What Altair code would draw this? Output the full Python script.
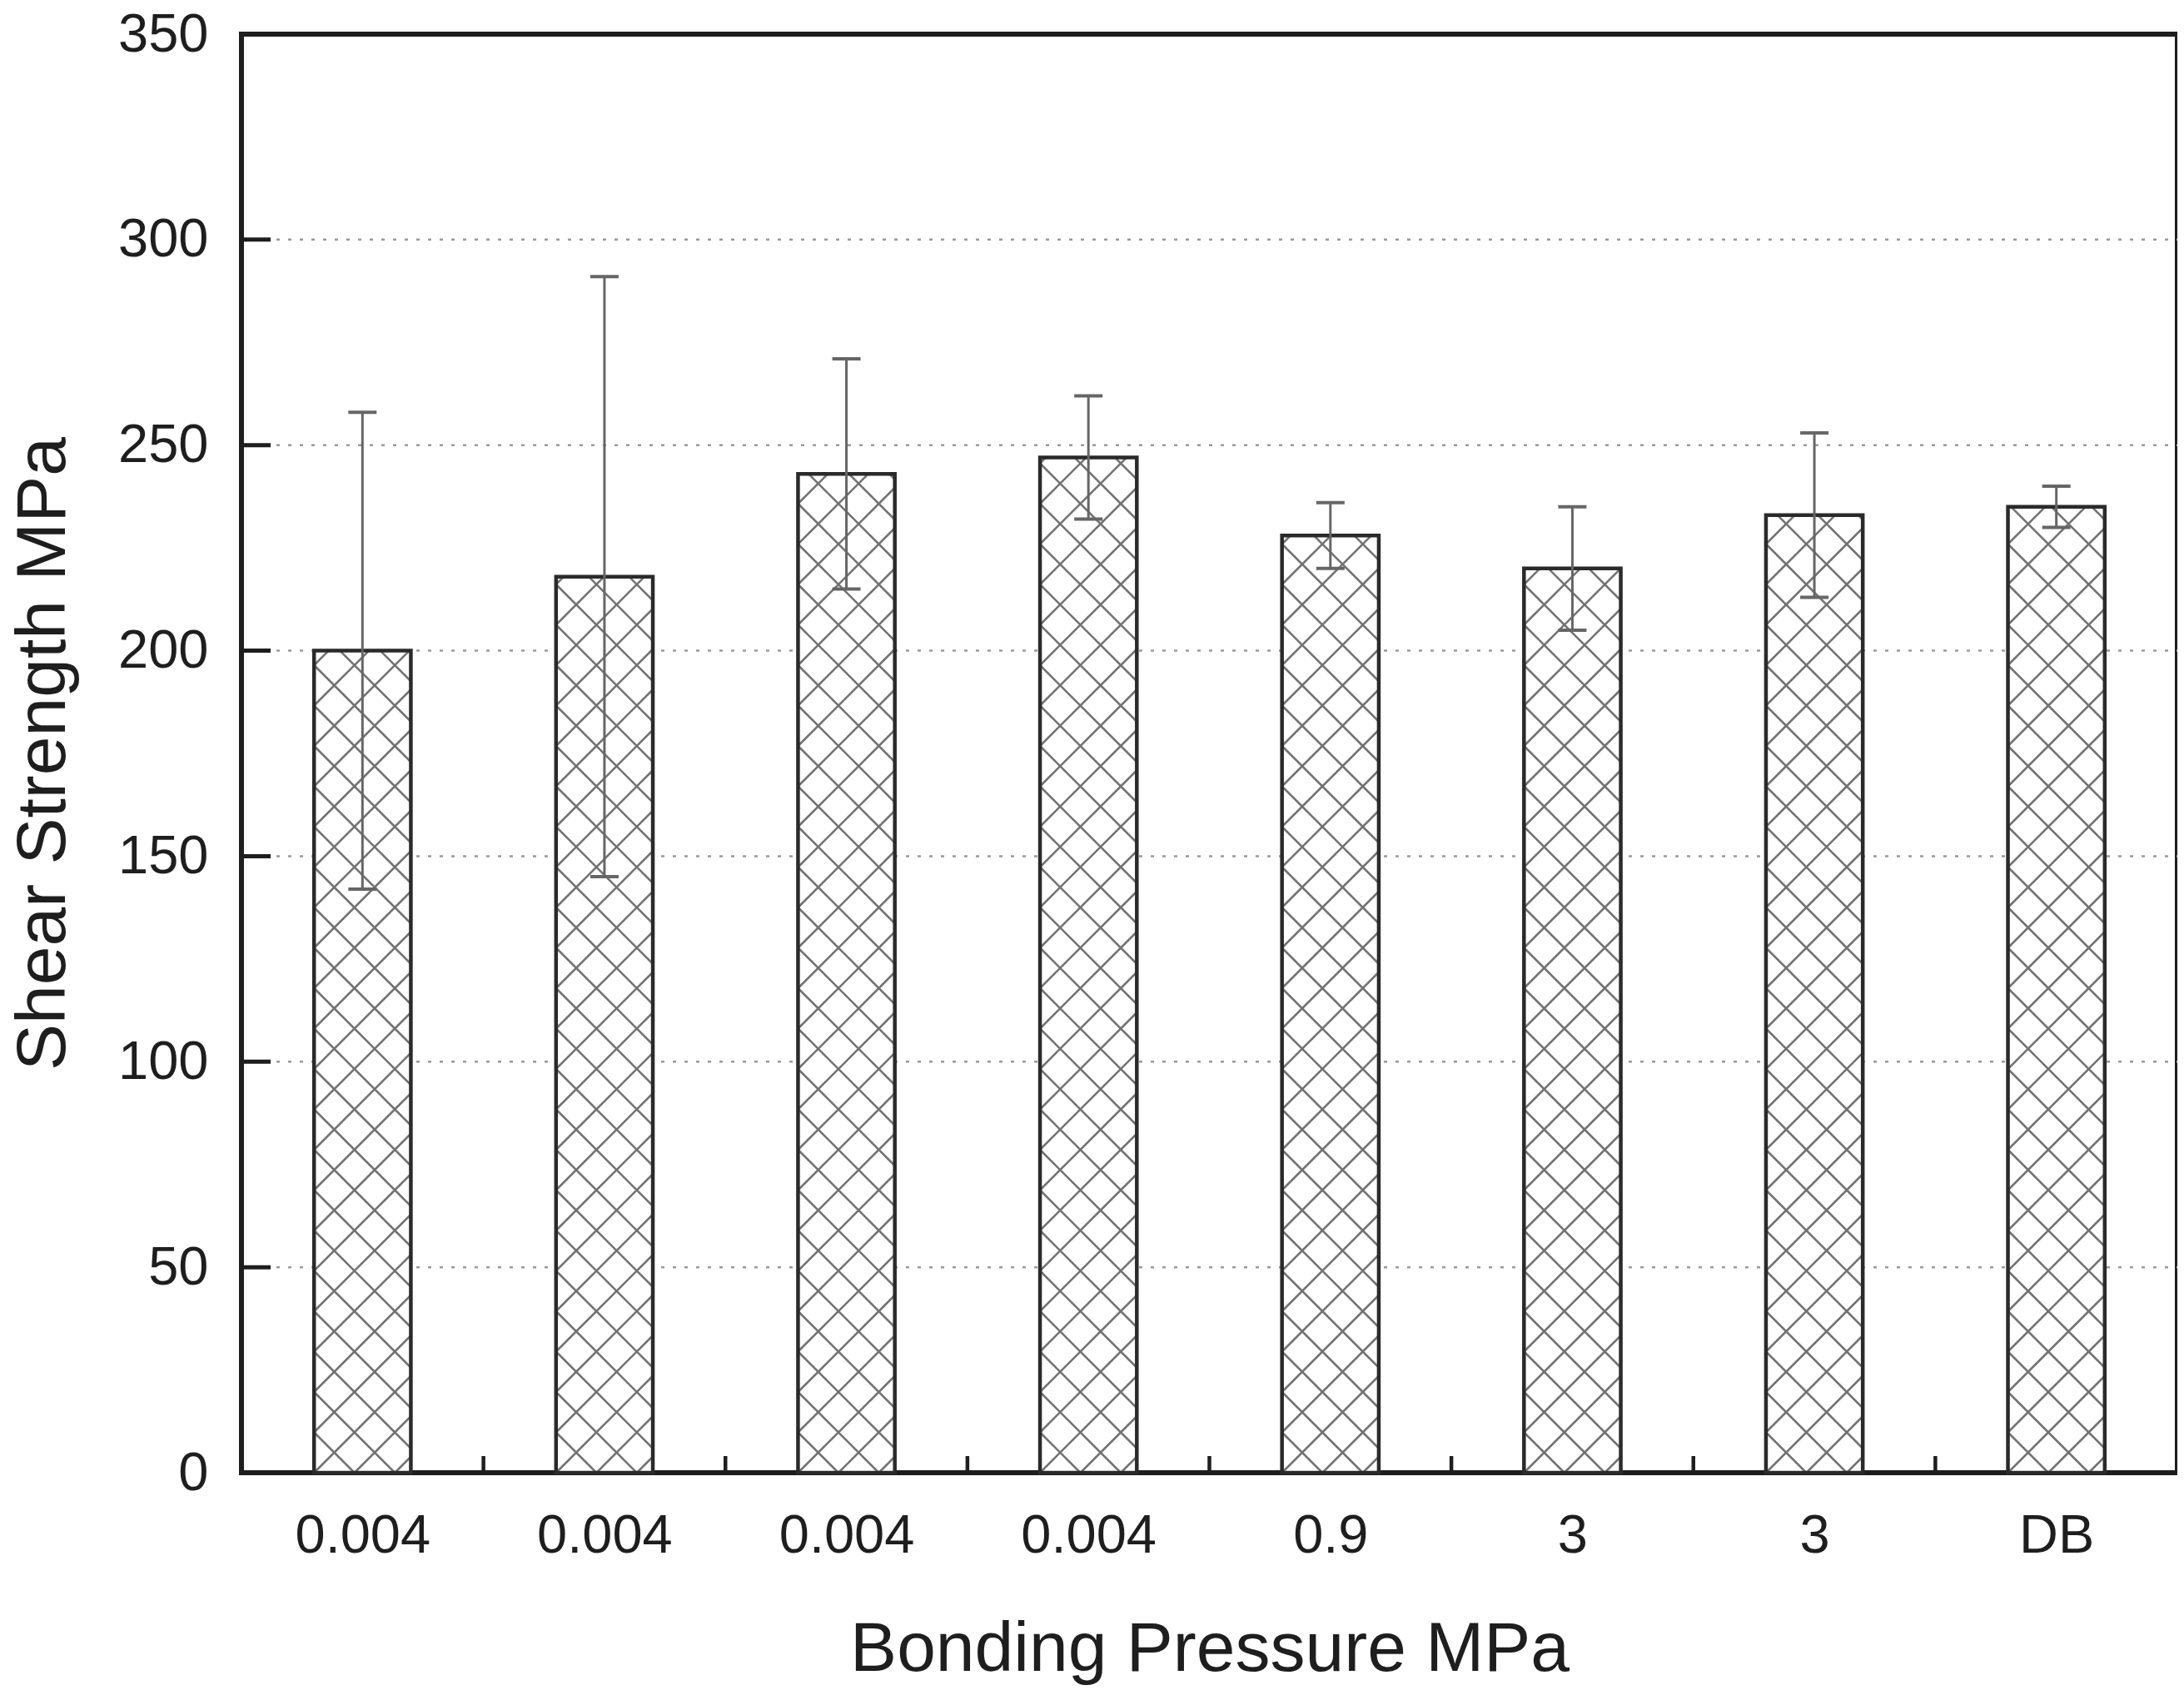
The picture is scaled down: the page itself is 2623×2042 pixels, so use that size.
import json
import altair as alt
import pandas as pd

# ---- data ----
labels = ["0.004", "0.004", "0.004", "0.004", "0.9", "3", "3", "DB"]
strength = [200, 218, 243, 247, 228, 220, 233, 235]
err_hi = [258, 291, 271, 262, 236, 235, 253, 240]
err_lo = [142, 145, 215, 232, 220, 205, 213, 230]
y_ticks = [0, 50, 100, 150, 200, 250, 300, 350]
grid_vals = [50, 100, 150, 200, 250, 300]

# ---- layout / style constants ----
W, H = 2325, 1728
N = len(labels)
YMAX = 350
HALF = 0.2          # half bar width in category units
CAP = 17 / (W / N)  # half cap width in category units
HATCH = 48.5        # hatch period in px
FONT = "Liberation Sans"
INK = "#1e1e1e"

sx = W / N
sy = H / YMAX

bars = pd.DataFrame({
    "label": labels,
    "x1": [i + 0.5 - HALF for i in range(N)],
    "x2": [i + 0.5 + HALF for i in range(N)],
    "xc": [i + 0.5 for i in range(N)],
    "cl": [i + 0.5 - CAP for i in range(N)],
    "cr": [i + 0.5 + CAP for i in range(N)],
    "v": strength,
    "hi": err_hi,
    "lo": err_lo,
})

# hatch segments, clipped to each bar (decoration derived from bar values)
segs = []
for i, v in enumerate(strength):
    left = i + 0.5 - HALF
    w = 2 * HALF * sx
    h = v * sy
    k = -int(h // HATCH) - 1
    while k * HATCH < w:
        c = k * HATCH
        u1, u2 = max(0.0, c), min(w, h + c)
        if u2 > u1:
            segs.append((left + u1 / sx, (u1 - c) / sy, left + u2 / sx, (u2 - c) / sy))
        k += 1
    k = 0
    while k * HATCH < w + h:
        c = k * HATCH
        u1, u2 = max(0.0, c - h), min(w, c)
        if u2 > u1:
            segs.append((left + u1 / sx, (c - u1) / sy, left + u2 / sx, (c - u2) / sy))
        k += 1
hatch = pd.DataFrame(segs, columns=["hx", "hy", "hx2", "hy2"])

ticks_y = pd.DataFrame({"t": y_ticks})
ticks_x = pd.DataFrame({"t": list(range(1, N))})
grid_df = pd.DataFrame({"g": grid_vals})

xscale = alt.Scale(domain=[0, N], nice=False, zero=False)
yscale = alt.Scale(domain=[0, YMAX], nice=False, zero=False)

label_expr = json.dumps(labels) + "[floor(datum.value)]"

xaxis = alt.Axis(
    values=[i + 0.5 for i in range(N)],
    labelExpr=label_expr,
    grid=False, ticks=False, domain=False,
    labelFontSize=65, labelPadding=44, labelColor=INK,
    labelFlush=False, labelOverlap=False,
    title="Bonding Pressure MPa", titleFontSize=84, titleFontWeight="normal",
    titleColor=INK, titlePadding=63,
)
yaxis = alt.Axis(
    values=y_ticks,
    grid=False, ticks=False, domain=False,
    labelFontSize=65, labelPadding=40, labelColor=INK,
    labelFlush=False, labelOverlap=False,
    title="Shear Strength MPa", titleFontSize=84, titleFontWeight="normal",
    titleColor=INK, titlePadding=46,
)


def X(f):
    return alt.X(f, type="quantitative", scale=xscale, axis=xaxis)


def Y(f):
    return alt.Y(f, type="quantitative", scale=yscale, axis=yaxis)


base = alt.Chart(bars)

grid_layer = alt.Chart(grid_df).mark_rule(
    color="#9a9a9a", strokeWidth=2.5, strokeDash=[4, 10]
).encode(x=alt.value(0), x2=alt.value(W), y=Y("g"))

fill = base.mark_rect(fill="white", strokeWidth=0).encode(
    x=X("x1"), x2="x2", y=Y("v"), y2=alt.datum(0)
)

hatch_layer = alt.Chart(hatch).mark_rule(color="#727272", strokeWidth=2.5).encode(
    x=X("hx"), y=Y("hy"), x2="hx2", y2="hy2"
)

outline = base.mark_rect(filled=False, stroke="#2a2a2a", strokeWidth=4.5).encode(
    x=X("x1"), x2="x2", y=Y("v"), y2=alt.datum(0)
)

err = base.mark_rule(color="#666666", strokeWidth=3).encode(
    x=X("xc"), y=Y("lo"), y2="hi"
)
cap_hi = base.mark_rule(color="#666666", strokeWidth=4).encode(
    x=X("cl"), x2="cr", y=Y("hi")
)
cap_lo = base.mark_rule(color="#666666", strokeWidth=4).encode(
    x=X("cl"), x2="cr", y=Y("lo")
)

ytick_layer = alt.Chart(ticks_y).mark_rule(color=INK, strokeWidth=5).encode(
    x=alt.value(0), x2=alt.value(35), y=Y("t")
)
xtick_layer = alt.Chart(ticks_x).mark_rule(color=INK, strokeWidth=4.5).encode(
    x=X("t"), y=alt.value(H), y2=alt.value(H - 20)
)

chart = (
    alt.layer(grid_layer, fill, hatch_layer, outline, err, cap_hi, cap_lo,
              ytick_layer, xtick_layer)
    .properties(
        width=W, height=H,
        autosize=alt.AutoSizeParams(type="none"),
        padding={"left": 282, "top": 33, "right": 0, "bottom": 265},
        background="white",
    )
    .configure(font=FONT, view=alt.ViewConfig(stroke=INK, strokeWidth=6))
)

chart.save("out.html", embed_options={"renderer": "svg", "actions": False})
